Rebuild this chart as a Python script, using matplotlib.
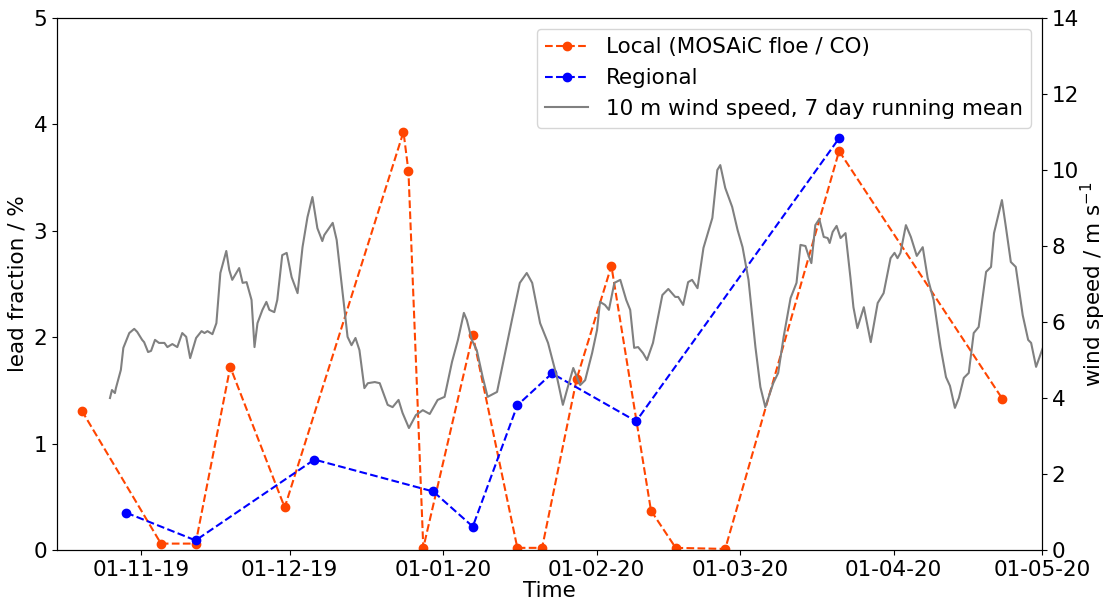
import numpy as np
import pandas as pd
import matplotlib
matplotlib.use("Agg")
import matplotlib.pyplot as plt
import matplotlib.dates as mdates

# lead fraction (%) from the two products
local_dates = ["2019-10-20", "2019-11-05", "2019-11-12", "2019-11-19", "2019-11-30",
               "2019-12-24", "2019-12-25", "2019-12-28", "2020-01-07", "2020-01-16",
               "2020-01-21", "2020-01-28", "2020-02-04", "2020-02-12", "2020-02-17",
               "2020-02-27", "2020-03-21", "2020-04-23"]
local_lead = [1.31, 0.06, 0.06, 1.72, 0.40, 3.93, 3.56, 0.02, 2.02, 0.02,
              0.02, 1.61, 2.67, 0.37, 0.02, 0.01, 3.75, 1.42]

regional_dates = ["2019-10-29", "2019-11-12", "2019-12-06", "2019-12-30", "2020-01-07",
                  "2020-01-16", "2020-01-23", "2020-02-09", "2020-03-21"]
regional_lead = [0.35, 0.09, 0.85, 0.55, 0.22, 1.36, 1.66, 1.21, 3.87]

# 10 m wind speed, 7 day running mean (days after 1 Nov 2019, m/s)
wind_day = [-6.3, -5.9, -5.3, -5.1, -4.1, -3.6, -2.4, -1.4, -0.8, 0.2, 0.6, 1.4, 2.0, 2.8,
            3.6, 4.7, 5.3, 6.3, 7.3, 8.3, 9.1, 9.9, 11.1, 12.2, 12.8, 13.4, 14.4, 15.2,
            16.0, 17.2, 17.8, 18.4, 19.8, 20.5, 21.3, 22.3, 22.9, 23.5, 24.5, 25.3, 25.9,
            26.9, 27.5, 28.5, 29.4, 30.4, 31.6, 32.6, 33.6, 34.6, 35.6, 36.6, 37.0, 38.7,
            39.5, 41.1, 41.7, 42.5, 43.3, 44.1, 45.1, 45.8, 47.2, 48.2, 49.8, 50.8, 52.0,
            52.8, 54.1, 55.5, 56.9, 58.3, 59.9, 61.3, 62.8, 64.0, 65.2, 65.8, 66.8, 67.8,
            69.0, 70.0, 71.9, 73.1, 74.9, 76.5, 77.9, 79.0, 80.6, 82.2, 84.0, 85.2, 86.2,
            87.3, 88.7, 89.7, 91.1, 92.1, 92.7, 93.7, 94.5, 95.6, 96.8, 98.0, 98.8, 99.6,
            100.4, 101.4, 102.2, 103.4, 105.3, 106.5, 107.9, 108.5, 109.5, 110.5, 111.3,
            112.4, 113.6, 115.4, 116.4, 117.0, 118.0, 119.4, 120.5, 121.5, 122.7, 124.1,
            125.1, 126.1, 127.7, 128.7, 129.8, 131.2, 132.4, 133.2, 134.2, 134.8, 135.4,
            136.2, 137.0, 137.9, 138.7, 139.1, 139.7, 140.5, 141.3, 142.3, 143.3, 143.9,
            144.7, 146.0, 147.4, 148.8, 150.0, 151.4, 152.2, 152.8, 153.4, 154.5, 155.5,
            156.7, 157.9, 158.9, 160.1, 161.5, 162.6, 163.4, 164.4, 165.2, 166.2, 167.2,
            168.2, 169.2, 170.7, 171.7, 172.3, 173.9, 174.7, 175.7, 176.7, 178.1, 179.2,
            179.8, 180.8, 182.0, 183.0]
wind_speed = [4.00, 4.21, 4.13, 4.26, 4.74, 5.32, 5.71, 5.82, 5.74, 5.53, 5.47, 5.21, 5.24,
              5.53, 5.45, 5.45, 5.34, 5.42, 5.34, 5.71, 5.61, 5.05, 5.58, 5.76, 5.71, 5.76,
              5.68, 5.97, 7.29, 7.87, 7.37, 7.11, 7.42, 7.03, 7.05, 6.58, 5.34, 5.97, 6.32,
              6.53, 6.32, 6.26, 6.58, 7.76, 7.82, 7.18, 6.76, 7.97, 8.76, 9.29, 8.47, 8.13,
              8.29, 8.61, 8.16, 6.32, 5.61, 5.39, 5.58, 5.26, 4.26, 4.39, 4.42, 4.39, 3.82,
              3.76, 3.95, 3.61, 3.21, 3.55, 3.68, 3.58, 3.95, 4.03, 4.95, 5.53, 6.24, 6.05,
              5.53, 5.26, 4.55, 4.03, 4.16, 4.92, 6.05, 7.03, 7.29, 7.03, 5.97, 5.45, 4.55,
              3.82, 4.29, 4.79, 4.34, 4.47, 5.18, 5.79, 6.53, 6.45, 6.32, 7.03, 7.11, 6.58,
              6.32, 5.32, 5.34, 5.18, 5.00, 5.45, 6.71, 6.87, 6.66, 6.66, 6.45, 7.05, 7.11,
              6.89, 7.95, 8.74, 10.00, 10.13, 9.53, 9.03, 8.42, 7.97, 7.11, 5.34, 4.29, 3.76,
              4.39, 4.66, 5.61, 6.63, 7.03, 8.03, 8.00, 7.76, 7.55, 8.55, 8.71, 8.24, 8.21,
              8.08, 8.37, 8.53, 8.21, 8.34, 7.16, 6.39, 5.84, 6.39, 5.47, 6.50, 6.76, 7.68,
              7.82, 7.68, 7.82, 8.55, 8.24, 7.74, 7.97, 7.16, 6.58, 5.34, 4.55, 4.32, 3.74,
              4.00, 4.53, 4.66, 5.71, 5.87, 7.32, 7.45, 8.34, 9.21, 8.50, 7.58, 7.45, 6.18,
              5.53, 5.45, 4.82, 5.26, 5.60]

plt.rcParams['font.size'] = 15.5

local_t = pd.to_datetime(local_dates)
regional_t = pd.to_datetime(regional_dates)
wind_t = pd.Timestamp("2019-11-01") + pd.to_timedelta(wind_day, unit="D")

fig, ax = plt.subplots(figsize=(11.07, 6.02), dpi=100)
fig.subplots_adjust(left=0.0515, right=0.9413, bottom=0.0864, top=0.970)

l1, = ax.plot(local_t, local_lead, linestyle='--', marker='o', markersize=6,
              color='orangered', label='Local (MOSAiC floe / CO)')
l2, = ax.plot(regional_t, regional_lead, linestyle='--', marker='o', markersize=6,
              color='blue', label='Regional')
ax.set_ylim(0, 5)
ax.set_ylabel('lead fraction / %')
ax.set_xlabel('Time', labelpad=1)

ax2 = ax.twinx()
l3, = ax2.plot(wind_t, wind_speed, color='gray', linewidth=1.5,
               label='10 m wind speed, 7 day running mean')
ax2.set_ylim(0, 14)
ax2.set_ylabel('wind speed / m s$^{-1}$', labelpad=0)

ax.set_xlim(pd.Timestamp("2019-10-15"), pd.Timestamp("2020-05-01"))
ax.xaxis.set_major_locator(mdates.MonthLocator())
ax.xaxis.set_major_formatter(mdates.DateFormatter('%d-%m-%y'))

ax2.legend(handles=[l1, l2, l3], loc='upper right')

fig.savefig('out.png', dpi=100)
